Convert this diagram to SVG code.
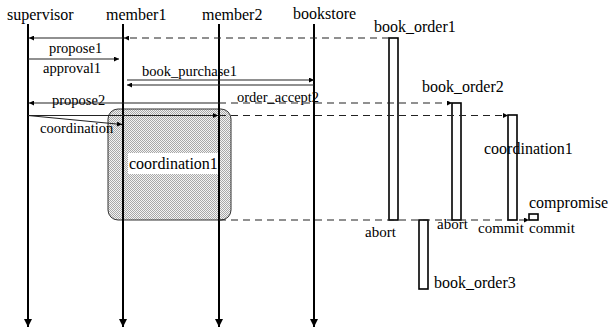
<svg xmlns="http://www.w3.org/2000/svg" width="609" height="333" viewBox="0 0 609 333">
<style>
text{font-family:'Liberation Serif','Times New Roman',serif;fill:#000}
.h{font-size:16px}
.m{font-size:14.5px}
.s{font-size:15px}
.life{stroke:#000;stroke-width:2;fill:none}
.msg{stroke:#222;stroke-width:1.1;fill:none}
.dash{stroke:#222;stroke-width:1.1;fill:none;stroke-dasharray:7 5}
.act{fill:none;stroke:#000;stroke-width:1.6}
</style>
<defs>
<marker id="ah" viewBox="0 0 10 10" refX="10" refY="5" markerWidth="7" markerHeight="5" orient="auto" markerUnits="userSpaceOnUse"><path d="M0,0 L10,5 L0,10 z" fill="#000"/></marker>
<marker id="lh" viewBox="0 0 10 10" refX="10" refY="5" markerWidth="10" markerHeight="8" orient="auto" markerUnits="userSpaceOnUse"><path d="M0,0 L10,5 L0,10 z" fill="#000"/></marker>
<pattern id="dots" width="2" height="2" patternUnits="userSpaceOnUse"><rect width="2" height="2" fill="#f4f4f4"/><rect width="1" height="1" fill="#a8a8a8"/><rect x="1" y="1" width="1" height="1" fill="#a8a8a8"/></pattern>
</defs>
<g id="coordination1-region">
<rect x="108" y="109" width="123" height="111" rx="10" fill="url(#dots)" stroke="#333" stroke-width="1"/>
<rect x="128" y="153" width="90" height="21" fill="#fff"/>
<text class="h" x="129" y="169">coordination1</text>
</g>
<g id="supervisor"><text class="h" x="7" y="20">supervisor</text><line class="life" x1="28" y1="24" x2="28" y2="327" marker-end="url(#lh)"/></g>
<g id="member1"><text class="h" x="106" y="20">member1</text><line class="life" x1="123" y1="24" x2="123" y2="327" marker-end="url(#lh)"/></g>
<g id="member2"><text class="h" x="202" y="20">member2</text><line class="life" x1="219" y1="24" x2="219" y2="327" marker-end="url(#lh)"/></g>
<g id="bookstore"><text class="h" x="293" y="19">bookstore</text><line class="life" x1="314" y1="24" x2="314" y2="327" marker-end="url(#lh)"/></g>
<g id="book_order1"><text class="h" x="374" y="32">book_order1</text><rect class="act" x="389" y="38" width="9" height="182"/><text class="s" x="365" y="237">abort</text></g>
<g id="book_order2"><text class="h" x="422" y="92">book_order2</text><rect class="act" x="452" y="103" width="9" height="117"/><text class="s" x="437" y="229">abort</text></g>
<g id="coordination1"><rect class="act" x="508" y="115" width="9" height="105"/><text class="h" x="484" y="154">coordination1</text><text class="s" x="478" y="233">commit</text></g>
<g id="compromise"><text class="h" x="529" y="208">compromise</text><rect class="act" x="529" y="214" width="9" height="6"/><text class="s" x="529" y="233">commit</text></g>
<g id="book_order3"><rect class="act" x="419" y="220" width="9" height="69"/><text class="h" x="434" y="288">book_order3</text></g>
<g id="connectors">
<line class="dash" x1="389" y1="38" x2="124" y2="38" marker-end="url(#ah)"/>
<line class="msg" x1="123" y1="38" x2="29" y2="38" marker-end="url(#ah)"/>
<text class="m" x="49" y="53">propose1</text>
<line class="msg" x1="28" y1="59" x2="119" y2="59" marker-end="url(#ah)"/>
<text class="m" x="43" y="73">approval1</text>
<line class="msg" x1="127" y1="80" x2="314" y2="80" marker-end="url(#ah)"/>
<text class="m" x="142" y="76">book_purchase1</text>
<line class="msg" x1="314" y1="85" x2="127" y2="85" marker-end="url(#ah)"/>
<line class="msg" x1="219" y1="103" x2="29" y2="103" marker-end="url(#ah)"/>
<line class="dash" x1="219" y1="103" x2="452" y2="103" marker-end="url(#ah)"/>
<text class="m" x="52" y="105">propose2</text>
<text class="m" x="237" y="102">order_accept2</text>
<line class="msg" x1="28" y1="115.5" x2="218" y2="115.5" marker-end="url(#ah)"/>
<line class="dash" x1="219" y1="115.5" x2="508" y2="115.5" marker-end="url(#ah)"/>
<line class="msg" x1="28" y1="115.5" x2="122" y2="124.5" marker-end="url(#ah)"/>
<text class="m" x="40" y="133">coordination</text>
<line class="dash" x1="219" y1="220" x2="529" y2="220" marker-end="url(#ah)"/>
</g>
</svg>
